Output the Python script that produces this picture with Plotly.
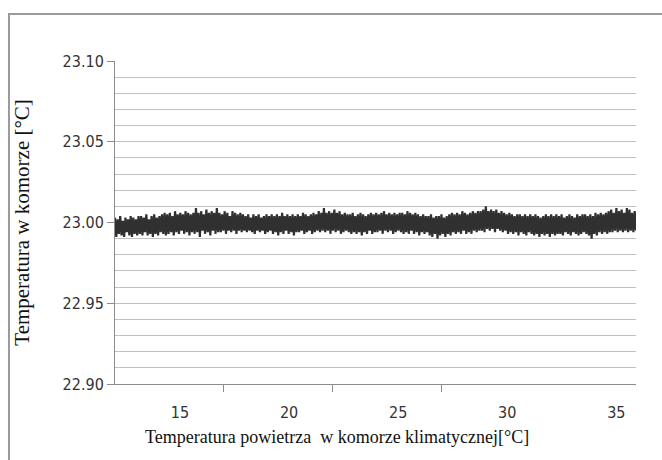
import numpy as np
import plotly.graph_objects as go

# Data: air temperature in climatic chamber (x) vs. temperature inside the chamber (y)
x_start = 12.02
x_end = 35.9
temp_chamber = [
    23.003,22.991,23.002,22.993,23.004,22.992,23.001,22.991,23.003,22.994,23.002,22.992,23.004,22.991,23.003,22.993,23.002,22.992,23.004,22.993,
    23.004,22.992,23.003,22.994,23.005,22.992,23.002,22.993,23.004,22.991,23.005,22.993,23.003,22.992,23.004,22.994,23.005,22.993,23.006,22.992,
    23.005,22.993,23.006,22.994,23.004,22.992,23.007,22.994,23.005,22.993,23.006,22.995,23.005,22.993,23.007,22.994,23.006,22.992,23.005,22.994,
    23.006,22.993,23.009,22.994,23.006,22.991,23.007,22.995,23.005,22.993,23.008,22.994,23.006,22.992,23.007,22.995,23.006,22.993,23.009,22.994,
    23.006,22.994,23.005,22.995,23.007,22.993,23.006,22.995,23.004,22.994,23.007,22.995,23.006,22.993,23.005,22.995,23.006,22.994,23.005,22.995,
    23.004,22.994,23.005,22.995,23.003,22.994,23.005,22.993,23.004,22.995,23.005,22.994,23.003,22.995,23.004,22.993,23.005,22.994,23.004,22.995,
    23.005,22.993,23.004,22.994,23.005,22.992,23.004,22.994,23.006,22.993,23.004,22.995,23.005,22.993,23.004,22.994,23.005,22.992,23.004,22.994,
    23.005,22.994,23.004,22.995,23.006,22.993,23.005,22.994,23.004,22.995,23.005,22.993,23.006,22.994,23.005,22.995,23.007,22.994,23.006,22.995,
    23.009,22.994,23.006,22.995,23.007,22.993,23.006,22.995,23.008,22.994,23.006,22.995,23.007,22.993,23.005,22.994,23.006,22.995,23.005,22.994,
    23.005,22.993,23.006,22.994,23.004,22.993,23.005,22.994,23.006,22.992,23.005,22.994,23.004,22.993,23.005,22.995,23.006,22.993,23.005,22.994,
    23.006,22.994,23.005,22.995,23.006,22.993,23.007,22.995,23.005,22.994,23.006,22.995,23.005,22.993,23.006,22.994,23.005,22.995,23.006,22.994,
    23.006,22.993,23.005,22.994,23.007,22.993,23.006,22.995,23.005,22.993,23.006,22.994,23.005,22.992,23.004,22.994,23.005,22.993,23.004,22.994,
    23.004,22.992,23.005,22.991,23.003,22.993,23.004,22.990,23.004,22.992,23.005,22.993,23.003,22.991,23.004,22.993,23.005,22.992,23.006,22.994,
    23.005,22.993,23.006,22.994,23.005,22.993,23.007,22.995,23.006,22.993,23.005,22.994,23.006,22.993,23.007,22.995,23.006,22.994,23.007,22.995,
    23.007,22.995,23.008,22.994,23.010,22.996,23.007,22.995,23.008,22.996,23.007,22.994,23.008,22.996,23.006,22.995,23.007,22.994,23.006,22.995,
    23.005,22.993,23.006,22.994,23.005,22.993,23.004,22.994,23.005,22.992,23.005,22.994,23.004,22.993,23.005,22.992,23.004,22.994,23.005,22.993,
    23.004,22.992,23.005,22.993,23.004,22.991,23.003,22.993,23.004,22.992,23.005,22.993,23.004,22.991,23.005,22.993,23.004,22.992,23.005,22.993,
    23.004,22.993,23.005,22.992,23.003,22.994,23.004,22.993,23.005,22.992,23.004,22.994,23.003,22.993,23.005,22.992,23.004,22.993,23.005,22.994,
    23.005,22.993,23.004,22.992,23.005,22.990,23.004,22.993,23.006,22.992,23.005,22.994,23.006,22.993,23.005,22.994,23.006,22.993,23.007,22.994,
    23.008,22.994,23.006,22.995,23.009,22.994,23.007,22.995,23.008,22.994,23.006,22.995,23.009,22.994,23.008,22.995,23.006,22.994,23.007,22.995,
]
temp_air = np.linspace(x_start, x_end, len(temp_chamber))

x_labels = [15, 20, 25, 30, 35]
x_tickmarks = [17, 22, 27]
y_major = [22.90, 22.95, 23.00, 23.05, 23.10]

x_title = "Temperatura powietrza  w komorze klimatycznej[°C]"
y_title = "Temperatura w komorze [°C]"

tick_font = dict(family="Liberation Sans Narrow, Arial Narrow, DejaVu Sans Condensed, sans-serif", size=16, color="#333333")
x_title_font = dict(family="Liberation Serif, Times New Roman, serif", size=18, color="#111111")
y_title_font = dict(family="Liberation Serif, Times New Roman, serif", size=21, color="#111111")

fig = go.Figure()
fig.add_trace(go.Scatter(x=temp_air, y=temp_chamber, mode="lines",
                         line=dict(color="#303030", width=2.2), showlegend=False,
                         hoverinfo="skip"))
fig.add_trace(go.Scatter(x=[x_start], y=[23.0], xaxis="x2", mode="markers",
                         marker=dict(opacity=0), showlegend=False, hoverinfo="skip"))

grid_col = "#c0c0c0"
axis_col = "#8c8c8c"

fig.update_layout(
    width=662, height=460,
    margin=dict(l=115, r=26, t=61, b=76),
    paper_bgcolor="white", plot_bgcolor="white",
    xaxis=dict(range=[x_start, x_end], tickvals=x_labels, ticks="",
               showgrid=False, zeroline=False, showline=True, linecolor=axis_col,
               linewidth=1, tickfont=tick_font, ticklabelstandoff=14),
    xaxis2=dict(overlaying="x", range=[x_start, x_end], tickvals=x_tickmarks,
                ticks="outside", ticklen=7, tickcolor=axis_col, showticklabels=False,
                showgrid=False, zeroline=False, showline=False, side="bottom"),
    yaxis=dict(range=[22.90, 23.10], tickvals=y_major, tickformat=".2f",
               ticks="outside", ticklen=7, tickcolor=axis_col,
               showgrid=True, gridcolor=grid_col, gridwidth=1,
               zeroline=False, showline=True, linecolor=axis_col, linewidth=1,
               tickfont=tick_font,
               minor=dict(dtick=0.01, tick0=22.90, showgrid=True, gridcolor=grid_col,
                          gridwidth=1, ticks="")),
    shapes=[dict(type="rect", xref="paper", yref="paper",
                 x0=-0.2035, x1=1.2, y0=-0.5, y1=1.1455,
                 line=dict(color="#9a9a9a", width=2), fillcolor="rgba(0,0,0,0)",
                 layer="below")],
    annotations=[
        dict(text=x_title, xref="paper", yref="paper", x=0.427, y=-0.164,
             showarrow=False, font=x_title_font, xanchor="center", yanchor="middle"),
        dict(text=y_title, xref="paper", yref="paper", x=-0.18, y=0.5,
             showarrow=False, font=y_title_font, textangle=-90,
             xanchor="center", yanchor="middle"),
    ],
)

fig.write_html("out.html")
